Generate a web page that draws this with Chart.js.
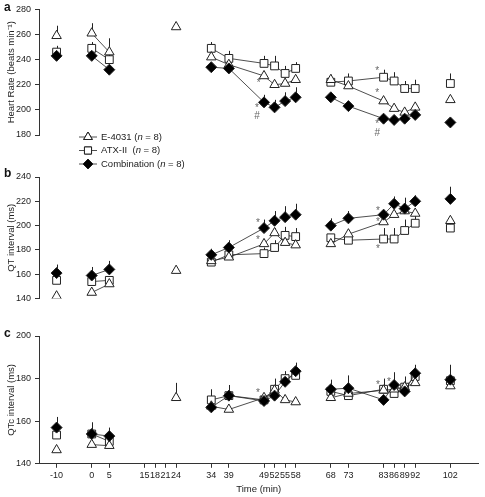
<!DOCTYPE html>
<html>
<head>
<meta charset="utf-8">
<script src="https://cdn.jsdelivr.net/npm/chart.js@4.4.0/dist/chart.umd.min.js"></script>
<style>
    body { margin: 0; background: #fff; width: 485px; height: 497px; position: relative; overflow: hidden; font-family: "Liberation Sans", Arial, sans-serif; }
    canvas { position: absolute; left: 0; }
    .panel { position: absolute; left: 4px; font-weight: bold; font-size: 12px; line-height: 12px; color: #111; }
</style>
</head>
<body>
<canvas id="hrChart" width="485" height="175" style="top:0"></canvas>
<canvas id="qtChart" width="485" height="148" style="top:160px"></canvas>
<canvas id="qtcChart" width="485" height="171" style="top:326px"></canvas>
<div class="panel" style="top:1px">a</div>
<div class="panel" style="top:167px">b</div>
<div class="panel" style="top:327px">c</div>
<script>
// sampling times (min) and which points are joined by a line
const times = [-10, 0, 5, 24, 34, 39, 49, 52, 55, 58, 68, 73, 83, 86, 89, 92, 102];
const runs = [0, 1, 1, 2, 3, 3, 3, 3, 3, 3, 4, 4, 4, 4, 4, 4, 5];
const xTicks = [-10, 0, 5, 15, 18, 21, 24, 34, 39, 49, 52, 55, 58, 68, 73, 83, 86, 89, 92, 102];

// Heart rate (beats/min)
const hrE4031 = [259, 261, 246, 266, 242, 236, 227, 220, 221, 224, 224, 219, 207, 201, 198, 202, 208];
const hrE4031Err = [8, 8, 11, 1, 4, 3, 4, 3, 3, 3, 4, 3, 3, 3, 3, 4, 3];
const hrAtx = [246, 249, 240, null, 249, 241, 237, 235, 229, 233, 222, 223, 226, 223, 217, 217, 221];
const hrAtxErr = [5, 5, 4, 0, 5, 6, 6, 8, 6, 5, 4, 6, 6, 7, 6, 7, 8];
const hrCombo = [243, 243, 232, null, 234, 233, 206, 202, 207, 210, 210, 203, 193, 192, 193, 196, 190];
const hrComboErr = [3, 3, 3, 0, 2, 3, 6, 6, 7, 8, 2, 2, 2, 2, 2, 3, 3];

// QT interval (ms)
const qtE4031 = [142, 145, 152, 163, 171, 174, 185, 194, 186, 184, 185, 193, 203, 209, 212, 210, 204];
const qtE4031Err = [2, 2, 2, 3, 2, 3, 4, 4, 4, 4, 3, 4, 3, 4, 4, 4, 4];
const qtAtx = [155, 154, 155, null, 170, 176, 177, 182, 192, 191, 190, 188, 189, 189, 196, 202, 198];
const qtAtxErr = [2, 2, 2, 0, 2, 3, 5, 6, 7, 7, 3, 3, 9, 9, 9, 9, 3];
const qtCombo = [161, 159, 164, null, 176, 182, 198, 204, 207, 209, 200, 206, 209, 218, 214, 220, 222];
const qtComboErr = [7, 7, 7, 0, 5, 6, 7, 8, 9, 9, 6, 6, 4, 6, 9, 5, 10];

// QTc interval (ms)
const qtcE4031 = [146.5, 149, 148.5, 171, 167, 165.5, 171, 174.5, 170, 169, 171, 173, 174.5, 175, 176, 178, 176.5];
const qtcE4031Err = [1, 1, 1, 7, 1, 1, 1, 1, 1, 1, 1, 1, 1, 1, 1, 1, 1];
const qtcAtx = [153.5, 154, 150.5, null, 170, 172, 170, 175, 180, 181.5, 174, 172, 175, 173, 176, 181, 179];
const qtcAtxErr = [2, 2, 2, 0, 5, 2, 2, 5, 2, 2, 2, 2, 5, 2, 5, 2, 2];
const qtcCombo = [157, 154, 153, null, 166.5, 172, 169.5, 172, 178.5, 183.5, 175, 175.5, 170, 177, 174, 182.5, 179.5];
const qtcComboErr = [5, 5.5, 4, 0, 2, 5, 1, 2, 5, 4, 4.5, 6, 2, 6, 2, 4, 7];

// significance marks [time, value, text]
const hrMarks = [[47.5, 221.5, '*'], [47, 201, '*'], [47, 195, '#'], [81.2, 231, '*'], [81.2, 213, '*'], [81.2, 188.5, '*'], [81.2, 181.5, '#']];
const qtMarks = [[47.3, 202, '*'], [47.3, 188, '*'], [81.4, 212, '*'], [81.4, 202.5, '*'], [81.4, 180.5, '*']];
const qtcMarks = [[47.3, 173, '*'], [81.4, 177, '*'], [84.5, 178.5, '*']];

const ink = '#222';

function toPoints(vals, errs) {
    let pts = [];
    vals.forEach((v, i) => {
        if (i > 0 && runs[i] !== runs[i - 1]) pts.push({ x: (times[i] + times[i - 1]) / 2, y: null });
        pts.push({ x: times[i], y: v, e: errs[i] });
    });
    return pts;
}

// vertical SEM bars (upwards only)
const errorBars = {
    id: 'errorBars',
    beforeDatasetsDraw(chart) {
        const ctx = chart.ctx;
        const xs = chart.scales.x, ys = chart.scales.y;
        ctx.save();
        ctx.strokeStyle = ink;
        ctx.lineWidth = 1;
        chart.data.datasets.forEach(ds => {
            ds.data.forEach(p => {
                if (p.y === null || !p.e) return;
                const px = Math.round(xs.getPixelForValue(p.x)) + 0.5;
                ctx.beginPath();
                ctx.moveTo(px, ys.getPixelForValue(p.y));
                ctx.lineTo(px, ys.getPixelForValue(p.y + p.e));
                ctx.stroke();
            });
        });
        ctx.restore();
    }
};

const sigMarks = {
    id: 'sigMarks',
    afterDatasetsDraw(chart, args, opts) {
        const ctx = chart.ctx;
        ctx.save();
        ctx.fillStyle = '#666';
        ctx.font = '10px "Liberation Sans", Arial, sans-serif';
        ctx.textAlign = 'center';
        ctx.textBaseline = 'middle';
        (opts.marks || []).forEach(m => {
            ctx.fillText(m[2], chart.scales.x.getPixelForValue(m[0]), chart.scales.y.getPixelForValue(m[1]));
        });
        ctx.restore();
    }
};

const legendNames = [['E-4031 (', ' = 8)'], ['ATX-II  (', ' = 8)'], ['Combination (', ' = 8)']];
const legendStyles = ['triangle', 'rect', 'rectRot'];

const customLegend = {
    id: 'customLegend',
    afterDraw(chart, args, opts) {
        if (!opts.show) return;
        const ctx = chart.ctx;
        ctx.save();
        legendNames.forEach((n, i) => {
            const y = 137 + i * 13.5;
            ctx.strokeStyle = ink;
            ctx.lineWidth = 0.8;
            ctx.beginPath();
            ctx.moveTo(79, y);
            ctx.lineTo(97, y);
            ctx.stroke();
            ctx.fillStyle = i === 2 ? '#000' : '#fff';
            ctx.lineWidth = 1;
            Chart.helpers.drawPoint(ctx, { pointStyle: legendStyles[i], radius: 5, borderWidth: 1 }, 88, y);
            ctx.fill();
            ctx.stroke();
            ctx.fillStyle = ink;
            ctx.textBaseline = 'middle';
            let x = 101;
            ctx.font = '9.5px "Liberation Sans", Arial, sans-serif';
            ctx.fillText(n[0], x, y);
            x += ctx.measureText(n[0]).width;
            ctx.font = 'italic 9.5px "Liberation Sans", Arial, sans-serif';
            ctx.fillText('n', x, y);
            x += ctx.measureText('n').width;
            ctx.font = '9.5px "Liberation Sans", Arial, sans-serif';
            ctx.fillText(n[1], x, y);
        });
        ctx.restore();
    }
};

function makeDatasets(e, eErr, a, aErr, c, cErr) {
    let common = { borderColor: ink, borderWidth: 0.8, pointBorderColor: ink, pointBorderWidth: 1, pointRadius: 5.5, pointHoverRadius: 5.5 };
    return [
        Object.assign({ label: 'E-4031', data: toPoints(e, eErr), pointStyle: 'triangle', pointBackgroundColor: '#fff', order: 2 }, common),
        Object.assign({ label: 'ATX-II', data: toPoints(a, aErr), pointStyle: 'rect', pointBackgroundColor: '#fff', order: 3 }, common),
        Object.assign({ label: 'Combination', data: toPoints(c, cErr), pointStyle: 'rectRot', pointBackgroundColor: '#000', pointBorderColor: '#000', order: 1 }, common)
    ];
}

function makeChart(id, datasets, yMin, yMax, yTitle, marks, padding, showX, showLegend) {
    return new Chart(document.getElementById(id), {
        type: 'line',
        data: { datasets: datasets },
        plugins: [errorBars, sigMarks, customLegend],
        options: {
            responsive: false,
            animation: false,
            layout: { padding: padding },
            plugins: {
                legend: { display: false },
                tooltip: { enabled: false },
                sigMarks: { marks: marks },
                customLegend: { show: showLegend }
            },
            scales: {
                x: {
                    type: 'linear',
                    display: showX,
                    min: -15,
                    max: 110,
                    afterBuildTicks: s => { s.ticks = xTicks.map(v => ({ value: v })); },
                    ticks: { autoSkip: false, maxRotation: 0, padding: 2, color: ink, font: { size: 9 } },
                    grid: { drawOnChartArea: false, tickLength: 4, color: '#333' },
                    border: { color: '#333' },
                    title: { display: true, text: 'Time (min)', color: ink, font: { size: 9.5 }, padding: { top: 1, bottom: 2 } }
                },
                y: {
                    min: yMin,
                    max: yMax,
                    ticks: { stepSize: 20, padding: 4, color: ink, font: { size: 9 } },
                    grid: { drawOnChartArea: false, tickLength: 4, color: '#333' },
                    border: { color: '#333' },
                    title: { display: true, text: yTitle, color: ink, font: { size: 9.5 }, padding: { top: 6, bottom: 0 } },
                    afterFit: s => { s.width = 39; }
                }
            }
        }
    });
}

makeChart('hrChart', makeDatasets(hrE4031, hrE4031Err, hrAtx, hrAtxErr, hrCombo, hrComboErr),
    180, 280, 'Heart Rate (beats min\u207B\u00B9)', hrMarks, { top: 9, bottom: 40, right: 5 }, false, true);
makeChart('qtChart', makeDatasets(qtE4031, qtE4031Err, qtAtx, qtAtxErr, qtCombo, qtComboErr),
    140, 240, 'QT interval (ms)', qtMarks, { top: 17, bottom: 7, right: 5 }, false, false);
makeChart('qtcChart', makeDatasets(qtcE4031, qtcE4031Err, qtcAtx, qtcAtxErr, qtcCombo, qtcComboErr),
    140, 200, 'QTc interval (ms)', qtcMarks, { top: 10, bottom: 0, right: 5 }, true, false);
</script>
</body>
</html>
